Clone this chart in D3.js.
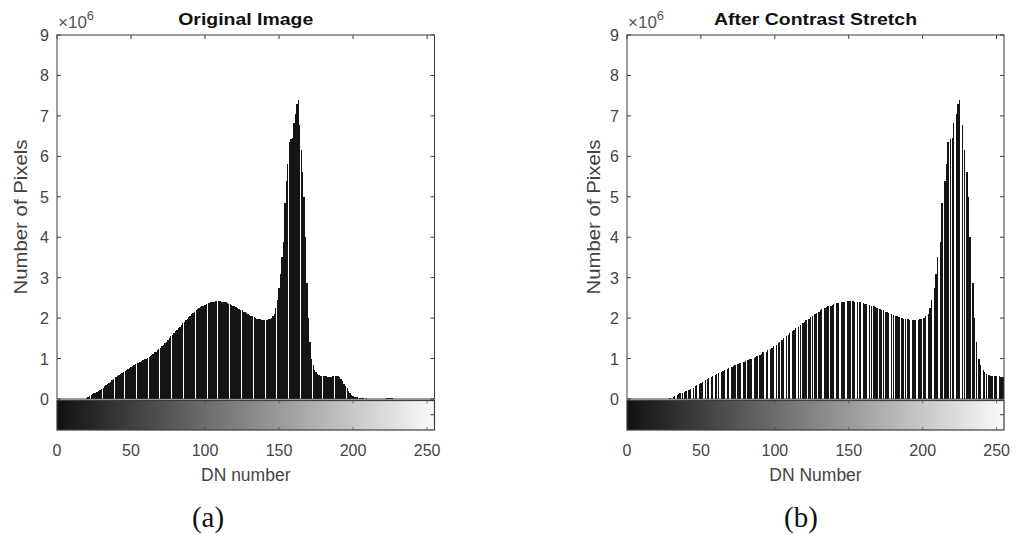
<!DOCTYPE html>
<html><head><meta charset="utf-8">
<script src="https://cdn.jsdelivr.net/npm/d3@7"></script>
<style>body{margin:0;background:#fff;} svg{display:block;}</style>
</head><body>
<svg id="c" width="1016" height="535"></svg>
<script>
// ---------- DATA (counts in millions of pixels) ----------
const xTicks = [0, 50, 100, 150, 200, 250];
const yTicks = [0, 1, 2, 3, 4, 5, 6, 7, 8, 9];
const titles = ["Original Image", "After Contrast Stretch"];
const xLabels = ["DN number", "DN Number"];
const yLabel = "Number of Pixels";
const panelTags = ["(a)", "(b)"];

// Original image histogram, DN 0..255
const originalCounts = [
  0,0,0,0,0,0,0,0,0,0, 0,0,0,0,0,0,0,0,0,0,
  0.02,0.05,0.08,0.10,0.12,0.14,0.16,0.18,0.20,0.22,
  0.25,0.28,0.31,0.34,0.37,0.40,0.43,0.46,0.49,0.52,
  0.55,0.57,0.60,0.62,0.65,0.67,0.70,0.72,0.74,0.76,
  0.79,0.81,0.84,0.86,0.88,0.90,0.92,0.94,0.96,0.98,
  1.00,1.02,1.05,1.07,1.10,1.12,1.15,1.17,1.20,1.23,
  1.26,1.30,1.34,1.38,1.42,1.46,1.50,1.55,1.59,1.63,
  1.67,1.71,1.75,1.79,1.83,1.87,1.91,1.95,1.99,2.02,
  2.06,2.09,2.13,2.16,2.19,2.22,2.25,2.27,2.29,2.31,
  2.33,2.35,2.37,2.38,2.39,2.40,2.41,2.42,2.42,2.42,
  2.42,2.41,2.41,2.40,2.39,2.37,2.36,2.34,2.33,2.31,
  2.29,2.27,2.25,2.23,2.21,2.19,2.16,2.14,2.12,2.10,
  2.08,2.06,2.04,2.02,2.00,1.99,1.98,1.97,1.96,1.95,
  1.95,1.95,1.96,1.97,1.99,2.01,2.04,2.10,2.25,2.45,
  2.75,3.10,3.50,3.89,4.85,5.40,5.82,6.36,6.42,6.46,
  6.83,7.05,7.29,7.40,6.77,6.15,5.62,5.00,4.01,2.86,
  2.00,1.40,1.00,0.85,0.72,0.66,0.62,0.60,0.58,0.57,
  0.56,0.56,0.56,0.55,0.55,0.55,0.56,0.56,0.56,0.57,
  0.57,0.55,0.50,0.44,0.38,0.32,0.26,0.20,0.15,0.11,
  0.08,0.06,0.05,0.04,0.03,0.02,0.02,0.015,0.01,0.02,
  0.01,0,0,0,0,0,0,0,0,0,
  0,0,0,0.02,0.02,0.02,0.02,0.02,0.01,0,
  0,0,0,0,0,0,0,0,0,0, 0,0,0,0,0,0,0,0,0,0, 0,0,0,0,0,0
];

// Stretched histogram: occupied DN bins and their counts
const stretchedDN = [
  29,31,32,34,35,36,38,39,40,42,43,45,46,47,49,50,51,53,54,55,
  57,58,60,61,62,64,65,66,68,69,71,72,73,75,76,77,79,80,82,83,
  84,86,87,88,90,91,92,94,95,97,98,99,101,102,103,105,106,108,109,110,
  112,113,114,116,117,119,120,121,123,124,125,127,128,130,131,132,134,135,136,138,
  139,140,142,143,145,146,147,149,150,151,153,154,156,157,158,160,161,162,164,165,
  167,168,169,171,172,173,175,176,177,179,180,182,183,184,186,187,188,190,191,193,
  194,195,197,198,199,201,202,204,205,206,208,209,210,212,213,215,216,217,219,220,
  221,223,224,225,227,228,230,231,232,234,235,236,238,239,241,242,243,245,246,247,
  249,250,252,253,254,255
];
const stretchedCounts = [
  0.02,0.05,0.08,0.10,0.12,0.14,0.16,0.18,0.20,0.22,0.25,0.28,0.31,0.34,0.37,0.40,0.43,0.46,0.49,0.52,
  0.55,0.57,0.60,0.62,0.65,0.67,0.70,0.72,0.74,0.76,0.79,0.81,0.84,0.86,0.88,0.90,0.92,0.94,0.96,0.98,
  1.00,1.02,1.05,1.07,1.10,1.12,1.15,1.17,1.20,1.23,1.26,1.30,1.34,1.38,1.42,1.46,1.50,1.55,1.59,1.63,
  1.67,1.71,1.75,1.79,1.83,1.87,1.91,1.95,1.99,2.02,2.06,2.09,2.13,2.16,2.19,2.22,2.25,2.27,2.29,2.31,
  2.33,2.35,2.37,2.38,2.39,2.40,2.41,2.42,2.42,2.42,2.42,2.41,2.41,2.40,2.39,2.37,2.36,2.34,2.33,2.31,
  2.29,2.27,2.25,2.23,2.21,2.19,2.16,2.14,2.12,2.10,2.08,2.06,2.04,2.02,2.00,1.99,1.98,1.97,1.96,1.95,
  1.95,1.95,1.96,1.97,1.99,2.01,2.04,2.10,2.25,2.45,2.75,3.10,3.50,3.89,4.85,5.40,5.82,6.36,6.42,6.46,
  6.83,7.05,7.29,7.40,6.77,6.15,5.62,5.00,4.01,2.86,2.00,1.40,1.00,0.85,0.72,0.66,0.62,0.60,0.58,0.57,
  0.56,0.56,0.56,0.55,0.55,0.55
];

// ---------- DRAW ----------
const svg = d3.select("#c");
svg.append("rect").attr("width",1016).attr("height",535).attr("fill","#fff");

const defs = svg.append("defs");
const grad = defs.append("linearGradient").attr("id","gray").attr("x1","0%").attr("x2","100%");
grad.append("stop").attr("offset","0%").attr("stop-color","#111");
grad.append("stop").attr("offset","100%").attr("stop-color","#fafafa");

const axisColor = "#3c3c3c";
const textColor = "#444";
const fontSans = "'Liberation Sans', Arial, Helvetica, sans-serif";

const panels = [
  {x0: 57, x1: 434.5, dns: originalCounts.map((d,i)=>i), counts: originalCounts,
   title: titles[0], titleLen: 135, xlab: xLabels[0], tag: panelTags[0], tagX: 208, ylabX: 21},
  {x0: 627, x1: 1004, dns: stretchedDN, counts: stretchedCounts,
   title: titles[1], titleLen: 203, xlab: xLabels[1], tag: panelTags[1], tagX: 801, ylabX: 594}
];
const yTop = 35, yBase = 399, cbTop = 399.5, cbBot = 430;

// raster seam pattern of the exported figure: a thin light seam roughly every 7.9 bins
const seamPeriod = 7.88, seamPhase = 30.2;
const hasSeam = d => Math.floor((d + 1 - seamPhase) / seamPeriod) > Math.floor((d - seamPhase) / seamPeriod);

panels.forEach((p, pi) => {
  const x = d3.scaleLinear().domain([0,255]).range([p.x0, p.x1]);
  const y = d3.scaleLinear().domain([0,9]).range([yBase, yTop]);
  const g = svg.append("g");

  const clipId = "clip" + pi;
  defs.append("clipPath").attr("id", clipId).append("rect")
    .attr("x", p.x0).attr("y", yTop).attr("width", p.x1 - p.x0).attr("height", yBase - yTop);

  // bars: pixel-snapped bin edges, one-pixel seam at the pattern boundaries
  const L0 = dn => Math.round(x(dn - 0.5));
  const R0 = dn => Math.round(x(dn + 0.5));
  const wide = dn => R0(dn) - L0(dn) >= 2;
  const L = dn => L0(dn) + ((hasSeam(dn - 1) && !wide(dn - 1)) ? 1 : 0);
  const R = dn => R0(dn) - ((hasSeam(dn) && wide(dn)) ? 1 : 0);
  const data = p.dns.map((d,i)=>({dn:d, v:p.counts[i]})).filter(d=>d.v>0);
  g.append("g").attr("clip-path", `url(#${clipId})`)
    .selectAll("rect").data(data).join("rect")
    .attr("x", d => L(d.dn))
    .attr("width", d => Math.max(1, R(d.dn) - L(d.dn)))
    .attr("y", d => y(d.v))
    .attr("height", d => y(0) - y(d.v))
    .attr("fill", "#151515")
    .attr("shape-rendering", "crispEdges");

  // axes box
  g.append("rect").attr("x", p.x0).attr("y", yTop).attr("width", p.x1 - p.x0).attr("height", yBase - yTop)
    .attr("fill","none").attr("stroke", axisColor).attr("stroke-width", 1);

  // y ticks (left and right, inward)
  yTicks.forEach(t => {
    g.append("line").attr("x1", p.x0).attr("x2", p.x0 + 4).attr("y1", y(t)).attr("y2", y(t))
      .attr("stroke", axisColor);
    g.append("line").attr("x1", p.x1).attr("x2", p.x1 - 4).attr("y1", y(t)).attr("y2", y(t))
      .attr("stroke", axisColor);
    g.append("text").attr("x", p.x0 - 8).attr("y", y(t) + 6).attr("text-anchor","end")
      .attr("font-family", fontSans).attr("font-size", 16).attr("fill", textColor).text(t);
  });
  // top ticks
  xTicks.forEach(t => {
    g.append("line").attr("x1", x(t)).attr("x2", x(t)).attr("y1", yTop).attr("y2", yTop + 4)
      .attr("stroke", axisColor);
  });

  // exponent label
  const ex = g.append("text").attr("x", p.x0 + 1).attr("y", 28)
    .attr("font-family", fontSans).attr("font-size", 17).attr("fill", "#555");
  ex.append("tspan").text("\u00d710");
  ex.append("tspan").attr("dy", -8).attr("font-size", 13).text("6");

  // colorbar
  g.append("rect").attr("x", p.x0).attr("y", cbTop + 1).attr("width", p.x1 - p.x0).attr("height", cbBot - cbTop - 1)
    .attr("fill", "url(#gray)").attr("stroke", axisColor).attr("stroke-width", 1.2);
  xTicks.forEach(t => {
    if (t !== 0) {
      g.append("line").attr("x1", x(t)).attr("x2", x(t)).attr("y1", cbTop + 1).attr("y2", cbTop + 4)
        .attr("stroke", axisColor).attr("opacity", 0.6);
      g.append("line").attr("x1", x(t)).attr("x2", x(t)).attr("y1", cbBot).attr("y2", cbBot - 3)
        .attr("stroke", axisColor).attr("opacity", 0.6);
    }
    g.append("text").attr("x", x(t)).attr("y", 456).attr("text-anchor","middle")
      .attr("font-family", fontSans).attr("font-size", 16).attr("fill", textColor).text(t);
  });
  g.append("line").attr("x1", p.x1).attr("x2", p.x1 - 4).attr("y1", (cbTop+cbBot)/2).attr("y2", (cbTop+cbBot)/2)
    .attr("stroke", axisColor);

  // title
  g.append("text").attr("x", (p.x0 + p.x1)/2).attr("y", 25).attr("text-anchor","middle")
    .attr("font-family", fontSans).attr("font-size", 16.5).attr("font-weight","bold").attr("fill","#111")
    .attr("textLength", p.titleLen).attr("lengthAdjust","spacingAndGlyphs").text(p.title);

  // x label
  g.append("text").attr("x", (p.x0 + p.x1)/2).attr("y", 481).attr("text-anchor","middle")
    .attr("font-family", fontSans).attr("font-size", 17.5).attr("fill", textColor).text(p.xlab);

  // y label
  g.append("text").attr("transform", `translate(${p.ylabX + 6},${217}) rotate(-90)`)
    .attr("text-anchor","middle")
    .attr("font-family", fontSans).attr("font-size", 17.5).attr("fill", textColor)
    .attr("textLength", 155).attr("lengthAdjust","spacingAndGlyphs").text(yLabel);

  // panel tag
  g.append("text").attr("x", p.tagX).attr("y", 527).attr("text-anchor","middle")
    .attr("font-family", "'Liberation Serif', 'Times New Roman', serif").attr("font-size", 29)
    .attr("fill", "#111").text(p.tag);
});
</script>
</body></html>
